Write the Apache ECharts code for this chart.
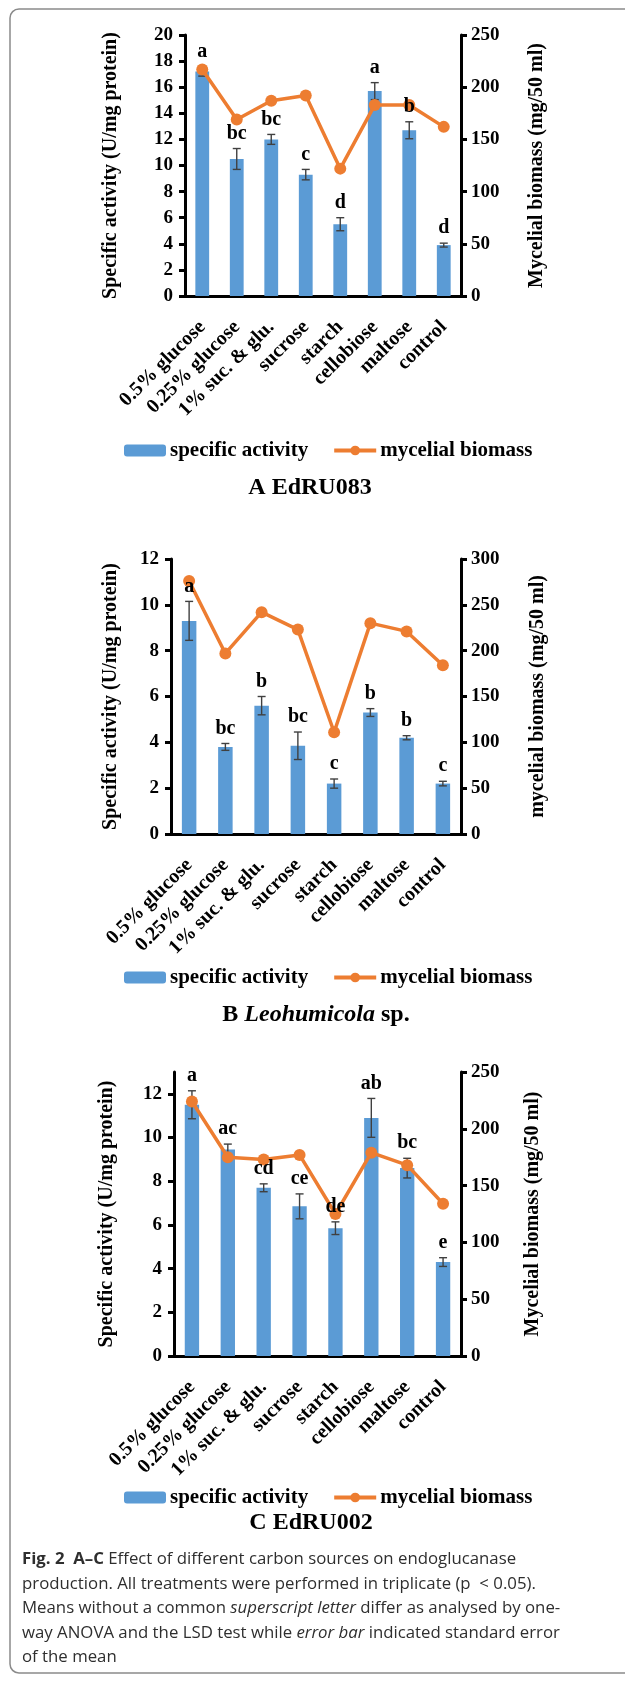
<!DOCTYPE html>
<html>
<head>
<meta charset="utf-8">
<script src="https://cdn.jsdelivr.net/npm/echarts@6/dist/echarts.min.js"></script>
<style>
  html, body { margin: 0; padding: 0; background: #fff; }
  #fig { width: 625px; height: 1683px; }
</style>
</head>
<body>
<div id="fig"></div>
<script>
// Carbon sources tested
const categories = ['0.5% glucose', '0.25% glucose', '1% suc. & glu.', 'sucrose', 'starch', 'cellobiose', 'maltose', 'control'];

// A: EdRU083
const activityA = [17.2, 10.5, 12.0, 9.3, 5.5, 15.7, 12.7, 3.9];
const errorA    = [0.35, 0.8, 0.38, 0.4, 0.5, 0.65, 0.65, 0.15];
const biomassA  = [217, 169, 187, 192, 122, 183, 183, 162];
const lettersA  = ['a', 'bc', 'bc', 'c', 'd', 'a', 'b', 'd'];

// B: Leohumicola sp.
const activityB = [9.3, 3.8, 5.6, 3.85, 2.2, 5.3, 4.2, 2.2];
const errorB    = [0.85, 0.15, 0.4, 0.6, 0.2, 0.17, 0.09, 0.1];
const biomassB  = [276, 197, 242, 223, 111, 230, 221, 184];
const lettersB  = ['a', 'bc', 'b', 'bc', 'c', 'b', 'b', 'c'];

// C: EdRU002
const activityC = [11.5, 9.45, 7.7, 6.85, 5.85, 10.9, 8.6, 4.3];
const errorC    = [0.64, 0.25, 0.18, 0.57, 0.29, 0.89, 0.45, 0.2];
const biomassC  = [224, 175, 173, 177, 125, 179, 168, 134];
const lettersC  = ['a', 'ac', 'cd', 'ce', 'de', 'ab', 'bc', 'e'];

// Axis ticks
const leftTicksC = [0, 2, 4, 6, 8, 10, 12];

const SERIF = '"Liberation Serif", "Times New Roman", serif';
const SANS = '"Open Sans", "Noto Sans", sans-serif';
const BAR = '#5B9BD5';
const LINE = '#ED7D31';

const panels = [
  { act: activityA, err: errorA, bio: biomassA, let: lettersA,
    grid: { left: 185, top: 35, width: 276, height: 261 },
    left: { max: 20, interval: 2, name: 'Specific activity (U/mg protein)', gap: 64 },
    right: { max: 250, interval: 50, name: 'Mycelial biomass (mg/50 ml)', gap: 66 },
    legendTop: 435 },
  { act: activityB, err: errorB, bio: biomassB, let: lettersB,
    grid: { left: 171, top: 559, width: 290, height: 275 },
    left: { max: 12, interval: 2, name: 'Specific activity (U/mg protein)', gap: 50 },
    right: { max: 300, interval: 50, name: 'mycelial biomass (mg/50 ml)', gap: 67 },
    legendTop: 962 },
  { act: activityC, err: errorC, bio: biomassC, let: lettersC,
    grid: { left: 174, top: 1072, width: 287, height: 284 },
    left: { max: 13, interval: 2, name: 'Specific activity (U/mg protein)', gap: 57, ticks: leftTicksC },
    right: { max: 250, interval: 50, name: 'Mycelial biomass (mg/50 ml)', gap: 62 },
    legendTop: 1482 }
];

const grid = [], xAxis = [], yAxis = [], series = [], legend = [];

panels.forEach((p, k) => {
  grid.push(Object.assign({ containLabel: false, outerBoundsMode: 'none' }, p.grid));
  xAxis.push({
    type: 'category', gridIndex: k, data: categories,
    axisLine: { show: true, lineStyle: { color: '#000', width: 3 } },
    axisTick: { show: false },
    splitLine: { show: false },
    axisLabel: { interval: 0, rotate: 45, margin: 28, fontFamily: SERIF, fontWeight: 'bold', fontSize: 20, color: '#000' }
  });
  const leftAxis = {
    type: 'value', gridIndex: k, position: 'left', min: 0, max: p.left.max, interval: p.left.interval,
    name: p.left.name, nameLocation: 'middle', nameGap: p.left.gap, nameRotate: 90,
    nameTextStyle: { fontFamily: SERIF, fontWeight: 'bold', fontSize: 20, color: '#000' },
    axisLine: { show: true, lineStyle: { color: '#000', width: 3 } },
    axisTick: { show: true, length: 6, lineStyle: { color: '#000', width: 3 } },
    splitLine: { show: false },
    axisLabel: { margin: 12, fontFamily: SERIF, fontWeight: 'bold', fontSize: 19, color: '#000' }
  };
  if (p.left.ticks) {
    leftAxis.axisTick.customValues = p.left.ticks;
    leftAxis.axisLabel.customValues = p.left.ticks;
  }
  yAxis.push(leftAxis);
  yAxis.push({
    type: 'value', gridIndex: k, position: 'right', min: 0, max: p.right.max, interval: p.right.interval,
    alignTicks: false,
    name: p.right.name, nameLocation: 'middle', nameGap: p.right.gap, nameRotate: 90,
    nameTextStyle: { fontFamily: SERIF, fontWeight: 'bold', fontSize: 20, color: '#000' },
    axisLine: { show: true, lineStyle: { color: '#000', width: 3 } },
    axisTick: { show: true, length: 6, lineStyle: { color: '#000', width: 3 } },
    splitLine: { show: false },
    axisLabel: { margin: 10, fontFamily: SERIF, fontWeight: 'bold', fontSize: 19, color: '#000' }
  });

  const yl = k * 2, yr = k * 2 + 1;
  series.push({
    name: 'specific activity', type: 'bar', xAxisIndex: k, yAxisIndex: yl,
    data: p.act, barWidth: '40%', itemStyle: { color: BAR }, z: 2, animation: false
  });
  // standard error whiskers
  series.push({
    type: 'custom', xAxisIndex: k, yAxisIndex: yl, z: 3, animation: false, silent: true,
    data: p.act.map((v, i) => [i, v, p.err[i]]),
    renderItem: (params, api) => {
      const i = api.value(0), v = api.value(1), e = api.value(2);
      const x = api.coord([i, v])[0];
      const hi = api.coord([i, v + e])[1];
      const lo = api.coord([i, v - e])[1];
      const cap = 4;
      const st = { stroke: '#404040', lineWidth: 1.4 };
      return { type: 'group', children: [
        { type: 'line', shape: { x1: x, y1: hi, x2: x, y2: lo }, style: st },
        { type: 'line', shape: { x1: x - cap, y1: hi, x2: x + cap, y2: hi }, style: st },
        { type: 'line', shape: { x1: x - cap, y1: lo, x2: x + cap, y2: lo }, style: st }
      ] };
    }
  });
  series.push({
    name: 'mycelial biomass', type: 'line', xAxisIndex: k, yAxisIndex: yr,
    data: p.bio, symbol: 'circle', symbolSize: 12, z: 4, animation: false,
    lineStyle: { color: LINE, width: 3.5 }, itemStyle: { color: LINE }
  });
  // significance letters above the whiskers
  series.push({
    type: 'custom', xAxisIndex: k, yAxisIndex: yl, z: 5, animation: false, silent: true,
    data: p.act.map((v, i) => [i, v + p.err[i]]),
    renderItem: (params, api) => {
      const pt = api.coord([api.value(0), api.value(1)]);
      return { type: 'text', x: pt[0], y: pt[1] - 15, style: {
        text: p.let[params.dataIndex], textAlign: 'center', textVerticalAlign: 'middle',
        font: 'bold 20px ' + SERIF, fill: '#000' } };
    }
  });
  legend.push({
    left: 119, top: p.legendTop, orient: 'horizontal', selectedMode: false,
    itemWidth: 42, itemHeight: 12, itemGap: 24,
    lineStyle: { width: 4 },
    data: ['specific activity', 'mycelial biomass'],
    textStyle: { fontFamily: SERIF, fontWeight: 'bold', fontSize: 21, color: '#000', padding: [0, 0, 0, -1] }
  });
});

const chart = echarts.init(document.getElementById('fig'), null, { renderer: 'canvas' });
chart.setOption({
  animation: false,
  backgroundColor: '#fff',
  grid, xAxis, yAxis, series, legend,
  graphic: [
    { type: 'rect', shape: { x: 10, y: 9, width: 660, height: 1664, r: 9 },
      style: { fill: 'none', stroke: '#8a8a8a', lineWidth: 1.5 }, z: 0 },
    { type: 'text', x: 310, y: 488, style: { text: 'A EdRU083', textAlign: 'center', textVerticalAlign: 'middle',
      font: 'bold 24px ' + SERIF, fill: '#000' } },
    { type: 'text', x: 316, y: 1015, style: { text: 'B {i|Leohumicola} sp.', textAlign: 'center', textVerticalAlign: 'middle',
      font: 'bold 24px ' + SERIF, fill: '#000',
      rich: { i: { fontFamily: SERIF, fontWeight: 'bold', fontStyle: 'italic', fontSize: 24, fill: '#000' } } } },
    { type: 'text', x: 311, y: 1523, style: { text: 'C EdRU002', textAlign: 'center', textVerticalAlign: 'middle',
      font: 'bold 24px ' + SERIF, fill: '#000' } },
    { type: 'text', x: 22, y: 1547, style: {
      text: [
        '{b|Fig. 2}  {b|A–C} Effect of different carbon sources on endoglucanase',
        'production. All treatments were performed in triplicate (p  < 0.05).',
        'Means without a common {i|superscript letter} differ as analysed by one-',
        'way ANOVA and the LSD test while {i|error bar} indicated standard error',
        'of the mean'
      ].join('\n'),
      font: '16.8px ' + SANS, fill: '#2e2e2e', lineHeight: 24.5,
      rich: {
        b: { fontFamily: SANS, fontWeight: 'bold', fontSize: 16.8, lineHeight: 24.5, fill: '#2e2e2e' },
        i: { fontFamily: SANS, fontStyle: 'italic', fontSize: 16.8, lineHeight: 24.5, fill: '#2e2e2e' }
      } } }
  ]
});
</script>
</body>
</html>
